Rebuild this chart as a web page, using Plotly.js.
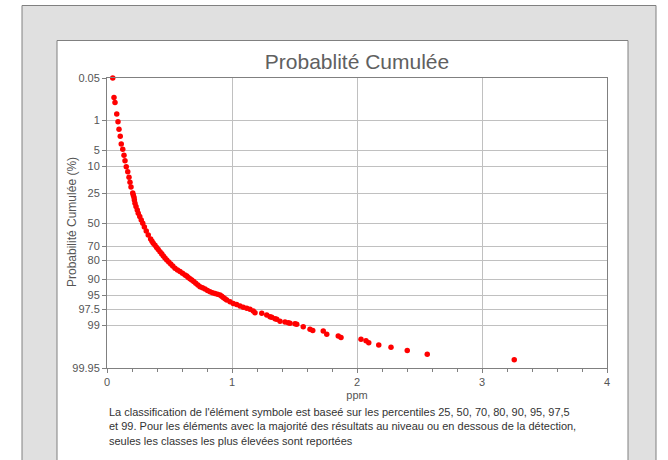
<!DOCTYPE html>
<html>
<head>
<meta charset="utf-8">
<script src="https://cdn.plot.ly/plotly-3.0.1.min.js"></script>
<style>
html,body{margin:0;padding:0;background:#fff;}
#chart{width:668px;height:460px;}
</style>
</head>
<body>
<div id="chart"></div>
<script>
// Concentration (ppm) of each sample, sorted
var ppm = [0.046,0.056,0.064,0.078,0.088,0.096,0.106,0.114,0.126,0.136,0.144,0.154,0.166,0.176,0.184,0.192,0.206,0.210,0.216,0.219,0.224,0.232,0.242,0.250,0.262,0.274,0.286,0.299,0.314,0.330,0.349,0.360,0.370,0.384,0.397,0.410,0.424,0.438,0.451,0.464,0.478,0.494,0.510,0.526,0.544,0.564,0.584,0.604,0.624,0.638,0.650,0.664,0.678,0.694,0.710,0.727,0.744,0.764,0.784,0.804,0.824,0.844,0.864,0.884,0.904,0.918,0.930,0.944,0.958,0.984,1.010,1.037,1.064,1.090,1.118,1.144,1.170,1.184,1.238,1.278,1.304,1.318,1.344,1.358,1.384,1.424,1.450,1.464,1.504,1.518,1.570,1.624,1.646,1.730,1.758,1.850,1.872,2.032,2.072,2.094,2.174,2.272,2.402,2.562,3.258];
// Cumulative probability (%) of each sample
var probPct = [0.05,0.22,0.31,0.67,1.08,1.68,2.46,3.65,4.7,6.2,7.9,10.1,12.2,15.0,17.8,20.7,24.8,26.3,28.0,30.1,32.7,35.5,38.4,41.3,44.2,47.3,50.3,53.6,57.2,60.7,64.2,66.0,67.8,69.4,71.1,72.7,74.3,75.8,77.3,78.6,80.0,81.2,82.4,83.5,84.8,85.7,86.5,87.3,88.1,88.6,89.2,89.7,90.2,90.8,91.4,92.0,92.6,92.9,93.3,93.7,94.05,94.3,94.5,94.7,94.9,95.2,95.45,95.7,95.97,96.3,96.6,96.8,97.0,97.2,97.35,97.5,97.7,97.91,97.98,98.16,98.33,98.38,98.51,98.56,98.72,98.77,98.82,98.86,98.88,98.92,99.07,99.21,99.26,99.29,99.42,99.48,99.53,99.58,99.62,99.67,99.72,99.76,99.81,99.855,99.904];
// Probability axis ticks (%)
var yTickPct = [0.05,1,5,10,25,50,70,80,90,95,97.5,99,99.95];
var yTickText = ["0.05","1","5","10","25","50","70","80","90","95","97.5","99","99.95"];
var xTickVals = [0,1,2,3,4];

var titleText = "Probablité Cumulée";
var yTitle = "Probabilité Cumulée (%)";
var xTitle = "ppm";
var noteText = "La classification de l'élément symbole est baseé sur les percentiles 25, 50, 70, 80, 90, 95, 97,5<br>et 99. Pour les éléments avec la majorité des résultats au niveau ou en dessous de la détection,<br>seules les classes les plus élevées sont reportées";

// inverse standard normal CDF (Acklam) -> normal probability scale
function probit(p){
  var a=[-3.969683028665376e+01,2.209460984245205e+02,-2.759285104469687e+02,1.383577518672690e+02,-3.066479806614716e+01,2.506628277459239e+00];
  var b=[-5.447609879822406e+01,1.615858368580409e+02,-1.556989798598866e+02,6.680131188771972e+01,-1.328068155288572e+01];
  var c=[-7.784894002430293e-03,-3.223964580411365e-01,-2.400758277161838e+00,-2.549732539343734e+00,4.374664141464968e+00,2.938163982698783e+00];
  var d=[7.784695709041462e-03,3.224671290700398e-01,2.445134137142996e+00,3.754408661907416e+00];
  var pl=0.02425,ph=1-pl,q,r;
  if(p<pl){q=Math.sqrt(-2*Math.log(p));return (((((c[0]*q+c[1])*q+c[2])*q+c[3])*q+c[4])*q+c[5])/((((d[0]*q+d[1])*q+d[2])*q+d[3])*q+1);}
  if(p<=ph){q=p-0.5;r=q*q;return (((((a[0]*r+a[1])*r+a[2])*r+a[3])*r+a[4])*r+a[5])*q/(((((b[0]*r+b[1])*r+b[2])*r+b[3])*r+b[4])*r+1);}
  q=Math.sqrt(-2*Math.log(1-p));return -(((((c[0]*q+c[1])*q+c[2])*q+c[3])*q+c[4])*q+c[5])/((((d[0]*q+d[1])*q+d[2])*q+d[3])*q+1);
}
var yz = probPct.map(function(v){return probit(v/100);});
var tickZ = yTickPct.map(function(v){return probit(v/100);});

var fontFam = "'Liberation Sans', Arial, sans-serif";
var grey = "#555555";

var trace = {
  x: ppm, y: yz, type: "scatter", mode: "markers",
  marker: {color: "#ff0000", size: 5.5},
  cliponaxis: false, hoverinfo: "skip", showlegend: false
};

var layout = {
  width: 668, height: 460,
  margin: {l: 107, r: 61, t: 78, b: 92},
  paper_bgcolor: "#ffffff", plot_bgcolor: "rgba(0,0,0,0)",
  font: {family: fontFam, color: grey, size: 11},
  title: {text: titleText, font: {family: fontFam, size: 21, color: "#606060"}, x: 0.5, xanchor: "center", xref: "paper", y: 1 - 62/460, yanchor: "middle"},
  xaxis: {
    range: [0, 4], tickvals: xTickVals, ticktext: xTickVals.map(String),
    showgrid: true, gridcolor: "#c0c0c0", gridwidth: 1, zeroline: false,
    showline: true, linecolor: "#808080", linewidth: 1, mirror: true,
    ticks: "outside", ticklen: 4, tickcolor: "#808080",
    minor: {dtick: 0.2, tick0: 0, ticks: "outside", ticklen: 3, tickcolor: "#808080", showgrid: false},
    tickfont: {size: 11, color: grey},
    title: {text: xTitle, font: {size: 11, color: grey}, standoff: 4}
  },
  yaxis: {
    range: [probit(0.9995), probit(0.0005)],
    tickvals: tickZ, ticktext: yTickText,
    showgrid: true, gridcolor: "#c0c0c0", gridwidth: 1, zeroline: false,
    showline: true, linecolor: "#808080", linewidth: 1, mirror: true,
    ticks: "outside", ticklen: 4, tickcolor: "#808080",
    tickfont: {size: 11, color: grey}
  },
  shapes: [
    {type: "rect", xref: "paper", yref: "paper", layer: "below",
     x0: (22-107)/500, x1: (656-107)/500, y0: (368-480)/290, y1: (368-5.5)/290,
     fillcolor: "#e0e0e0", line: {color: "#808080", width: 1}},
    {type: "rect", xref: "paper", yref: "paper", layer: "below",
     x0: (57-107)/500, x1: (628-107)/500, y0: (368-480)/290, y1: (368-40.5)/290,
     fillcolor: "#ffffff", line: {color: "#808080", width: 1}}
  ],
  annotations: [
    {text: yTitle, xref: "paper", yref: "paper", x: (72-107)/500, y: (368-222)/290,
     xanchor: "center", yanchor: "middle", textangle: -90, showarrow: false,
     font: {family: fontFam, size: 12, color: grey}},
    {text: noteText, xref: "paper", yref: "paper", x: 0, y: (368-404)/290,
     xanchor: "left", yanchor: "top", align: "left", showarrow: false,
     font: {family: fontFam, size: 11, color: "#333333"}}
  ]
};

Plotly.newPlot("chart", [trace], layout, {displayModeBar: false, staticPlot: true});
</script>
</body>
</html>
